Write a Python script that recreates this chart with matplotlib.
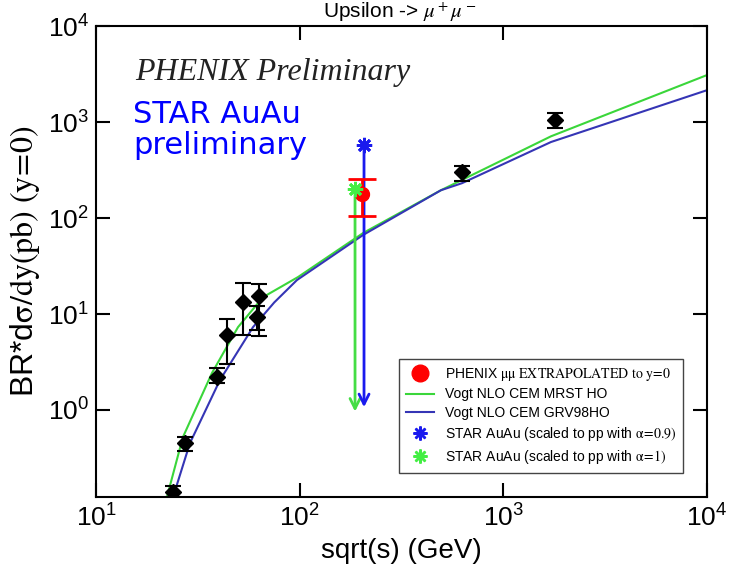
import numpy as np
import matplotlib
matplotlib.use('Agg')
import matplotlib.pyplot as plt
from matplotlib.lines import Line2D

plt.rcParams['font.family'] = 'Liberation Sans'
plt.rcParams['mathtext.fontset'] = 'stix'

# measured cross sections (black diamonds)
sqrt_s = [23.9, 27.4, 39.3, 44.0, 52.7, 63.1, 62.0, 627, 1791]
sigma = [0.14, 0.45, 2.2, 6.04, 13.3, 15.4, 9.3, 301, 1050]
sigma_hi = [0.162, 0.52, 2.74, 8.9, 21.0, 20.5, 12.0, 350, 1240]
sigma_lo = [0.124, 0.37, 1.91, 3.0, 6.04, 5.9, 6.8, 246, 870]

# Vogt NLO CEM curves
mrst_x = [22.3, 26.7, 37.1, 49.8, 66.1, 98.2, 205, 494, 1714, 10000]
mrst_y = [0.124, 0.52, 2.43, 7.3, 15.0, 24.3, 69.9, 195, 711, 3090]
grv_x = [23.9, 28.9, 40.6, 59.0, 75.0, 97.0, 205, 494, 627, 1714, 10000]
grv_y = [0.124, 0.45, 2.05, 7.3, 13.2, 22.6, 66.7, 195, 231, 620, 2150]

# PHENIX extrapolated point
phenix_x, phenix_y = 202, 178
phenix_lo, phenix_hi = 105, 257

# STAR AuAu (upper limits drawn as arrows)
star09_x, star09_y, star09_end = 207, 575, 1.0
star1_x, star1_y, star1_end = 187, 200, 0.9

fig = plt.figure(figsize=(7.29, 5.68), dpi=100)
ax = fig.add_axes([0.1317, 0.125, 0.9698 - 0.1317, 0.954 - 0.125])
ax.set_xscale('log')
ax.set_yscale('log')

green = '#3ad63a'
navy = '#3535b5'

ax.plot(mrst_x, mrst_y, color=green, lw=1.5)
ax.plot(grv_x, grv_y, color=navy, lw=1.5)

yerr = [np.array(sigma) - np.array(sigma_lo), np.array(sigma_hi) - np.array(sigma)]
ax.errorbar(sqrt_s, sigma, yerr=yerr, fmt='D', color='black', ms=8,
            elinewidth=1.5, capsize=6, capthick=1.5, zorder=5)

# STAR arrows
ax.annotate('', xy=(star1_x, star1_end), xytext=(star1_x, star1_y),
            arrowprops=dict(arrowstyle='->', color='#44dd44', lw=2, mutation_scale=18))
ax.annotate('', xy=(star09_x, star09_end), xytext=(star09_x, star09_y),
            arrowprops=dict(arrowstyle='->', color='#1a1aee', lw=2, mutation_scale=18))

ax.errorbar([phenix_x], [phenix_y], yerr=[[phenix_y - phenix_lo], [phenix_hi - phenix_y]],
            fmt='o', color='red', ms=10, elinewidth=2, capsize=10, capthick=2, zorder=6)
ax.plot([star1_x], [star1_y], marker=(8, 2, 0), color='#44ee44', ms=11, mew=2, ls='none', zorder=7)
ax.plot([star09_x], [star09_y], marker=(8, 2, 0), color='#1a1aee', ms=11, mew=2, ls='none', zorder=7)

ax.set_xlim(10, 1e4)
ax.set_ylim(0.124, 1e4)

xt = [10, 100, 1000, 10000]
yt = [1, 10, 100, 1000, 10000]
ax.set_xticks(xt)
ax.set_xticklabels([r'$\mathregular{10^{%d}}$' % int(np.log10(v)) for v in xt])
ax.set_yticks(yt)
ax.set_yticklabels([r'$\mathregular{10^{%d}}$' % int(np.log10(v)) for v in yt])
ax.xaxis.set_minor_locator(matplotlib.ticker.NullLocator())
ax.yaxis.set_minor_locator(matplotlib.ticker.NullLocator())
ax.tick_params(which='major', direction='in', length=10, width=1.5,
               top=True, right=True, labelsize=19, pad=5)
for s in ax.spines.values():
    s.set_linewidth(1.5)

ax.set_xlabel('sqrt(s) (GeV)', fontsize=20, labelpad=5)
ax.set_ylabel(r'BR*d$\mathrm{\sigma/dy(pb)\ (y\!=\!0)}$', fontsize=23, labelpad=4)

fig.text(0.548, 1.0, r'Upsilon -> $\mu^+\mu^-$', fontsize=15, ha='center', va='top')

ax.text(0.064, 0.885, 'PHENIX Preliminary', transform=ax.transAxes, fontsize=23,
        family='Liberation Serif', style='italic', color='#222222')
ax.text(0.061, 0.728, 'STAR AuAu\npreliminary', transform=ax.transAxes, fontsize=22,
        family='DejaVu Sans', color='#0000ff', linespacing=1.1)

handles = [
    Line2D([], [], marker='o', color='red', ms=12, ls='none'),
    Line2D([], [], color=green, lw=1.5),
    Line2D([], [], color=navy, lw=1.5),
    Line2D([], [], marker=(8, 2, 0), color='#1a1aee', ms=10, mew=1.8, ls='none'),
    Line2D([], [], marker=(8, 2, 0), color='#44ee44', ms=10, mew=1.8, ls='none'),
]
labels = [
    r'PHENIX $\mathrm{\mu\mu\ EXTRAPOLATED\ to\ y\!=\!0}$',
    'Vogt NLO CEM MRST HO',
    'Vogt NLO CEM GRV98HO',
    r'STAR AuAu (scaled to pp with $\mathrm{\alpha\!=\!0.9)}$',
    r'STAR AuAu (scaled to pp with $\mathrm{\alpha\!=\!1)}$',
]
leg = ax.legend(handles, labels, loc='lower right', bbox_to_anchor=(0.961, 0.051),
                borderaxespad=0, fontsize=10, fancybox=False, framealpha=1,
                edgecolor='#444444', handlelength=2.0, handletextpad=0.8,
                labelspacing=0.35, borderpad=0.5)
leg.get_frame().set_linewidth(1.0)

fig.savefig('out.png', dpi=100)
